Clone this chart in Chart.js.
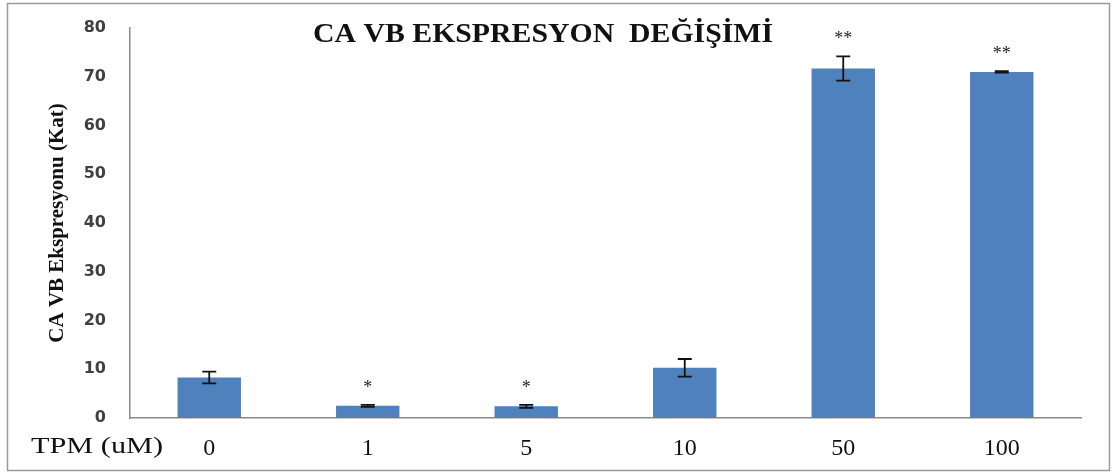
<!DOCTYPE html>
<html><head><meta charset="utf-8">
<script src="https://cdn.jsdelivr.net/npm/chart.js@4/dist/chart.umd.min.js"></script>
<style>html,body{margin:0;padding:0;background:#fff;}canvas{display:block;}</style>
</head><body>
<canvas id="c" width="1114" height="475"></canvas>
<script>
// Fold change of CA VB expression per TPM dose
const doses = ['0', '1', '5', '10', '50', '100'];
const expression = [8.3, 2.5, 2.4, 10.3, 71.7, 71.0];
const errors = [1.2, 0.2, 0.3, 1.8, 2.5, 0.15];
const significance = ['', '*', '*', '', '**', '**'];
const yTickValues = [0, 10, 20, 30, 40, 50, 60, 70, 80];
const chartTitle = 'CA VB EKSPRESYON  DEĞİŞİMİ';
const yTitle = 'CA VB Ekspresyonu (Kat)';
const xTitle = 'TPM (uM)';

const serif = '"Liberation Serif", "Times New Roman", serif';

// draws a string left/centre aligned and widened to a given width
function wideText(ctx, text, x, y, width, align) {
  const w = ctx.measureText(text).width;
  const k = width / w;
  ctx.save();
  ctx.translate(x, y);
  ctx.scale(k, 1);
  ctx.textAlign = align;
  ctx.fillText(text, 0, 0);
  ctx.restore();
}

// white page with a thin grey frame
const framePlugin = {
  id: 'frame',
  beforeDraw(chart) {
    const ctx = chart.ctx;
    ctx.save();
    ctx.fillStyle = '#fff';
    ctx.fillRect(0, 0, chart.width, chart.height);
    ctx.strokeStyle = '#9a9a9a';
    ctx.lineWidth = 1.5;
    ctx.strokeRect(7.5, 3.5, chart.width - 12, chart.height - 8);
    ctx.restore();
  }
};

// error bars and significance stars on top of each bar
const errorPlugin = {
  id: 'errorBars',
  afterDatasetsDraw(chart) {
    const ctx = chart.ctx;
    const y = chart.scales.y;
    const bars = chart.getDatasetMeta(0).data;
    ctx.save();
    bars.forEach((bar, i) => {
      const v = expression[i], e = errors[i];
      const top = y.getPixelForValue(v + e);
      const bot = y.getPixelForValue(v - e);
      ctx.strokeStyle = '#111';
      ctx.lineWidth = 1.8;
      ctx.beginPath();
      ctx.moveTo(bar.x, top); ctx.lineTo(bar.x, bot);
      ctx.moveTo(bar.x - 7, top); ctx.lineTo(bar.x + 7, top);
      ctx.moveTo(bar.x - 7, bot); ctx.lineTo(bar.x + 7, bot);
      ctx.stroke();
      if (significance[i]) {
        ctx.fillStyle = '#222';
        ctx.font = '18px ' + serif;
        ctx.textAlign = 'center';
        ctx.textBaseline = 'alphabetic';
        ctx.fillText(significance[i], bar.x, top - 12);
      }
    });
    ctx.restore();
  }
};

// chart title inside the plot and the dose axis caption
const textPlugin = {
  id: 'texts',
  afterDraw(chart) {
    const ctx = chart.ctx;
    ctx.save();
    ctx.fillStyle = '#111';
    ctx.textBaseline = 'middle';
    ctx.font = 'bold 27px ' + serif;
    wideText(ctx, chartTitle, 543, 35, 460, 'center');
    ctx.font = '23px ' + serif;
    wideText(ctx, xTitle, 31, 447, 132, 'left');
    ctx.restore();
  }
};

new Chart(document.getElementById('c'), {
  type: 'bar',
  data: {
    labels: doses,
    datasets: [{
      data: expression,
      backgroundColor: '#4F81BD',
      barPercentage: 0.4,
      categoryPercentage: 1.0
    }]
  },
  options: {
    responsive: false,
    animation: false,
    layout: { padding: { top: 28, right: 33, left: 0, bottom: 0 } },
    plugins: { legend: { display: false }, tooltip: { enabled: false }, title: { display: false } },
    scales: {
      x: {
        grid: { display: false, drawTicks: false },
        border: { color: '#8a8a8a', width: 1.5 },
        ticks: { font: { family: serif, size: 24 }, color: '#111', padding: 16 },
        afterFit(s) { s.height = 57; }
      },
      y: {
        min: 0, max: 80,
        afterBuildTicks(s) { s.ticks = yTickValues.map(v => ({ value: v })); },
        grid: { display: false, drawTicks: false },
        border: { color: '#8a8a8a', width: 1.5 },
        ticks: { font: { family: '"DejaVu Sans", sans-serif', size: 16, weight: 'bold' }, color: '#404040', padding: 24 },
        title: {
          display: true, text: yTitle, color: '#111',
          font: { family: serif, size: 21, weight: 'bold' },
          padding: { top: 45, bottom: 0 }
        },
        afterFit(s) { s.width = 130; s.paddingTop = 0; s.paddingBottom = 0; }
      }
    }
  },
  plugins: [framePlugin, errorPlugin, textPlugin]
});
</script>
</body></html>
